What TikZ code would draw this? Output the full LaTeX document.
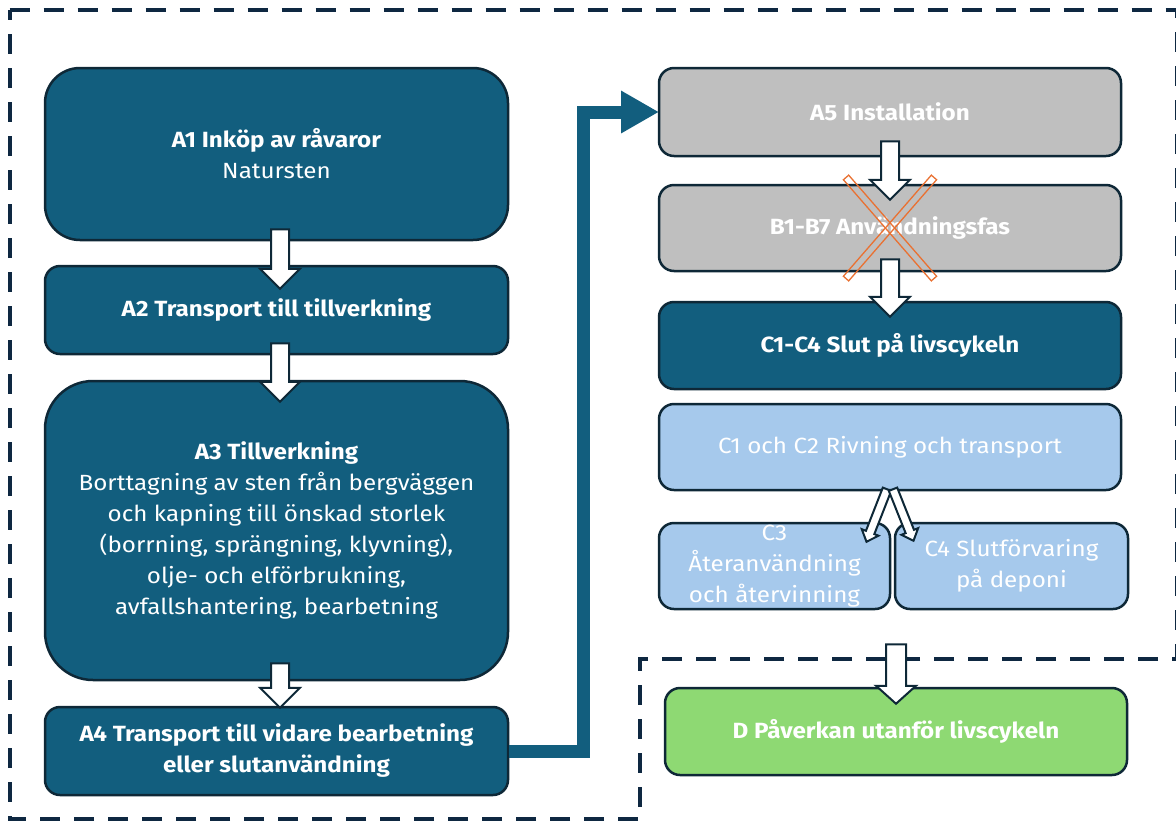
\documentclass[tikz,border=0pt]{standalone}
\usepackage{fontspec}
\setmainfont[FakeStretch=1.1]{Fira Sans}
\usetikzlibrary{calc,arrows.meta}
\definecolor{stageteal}{RGB}{18,94,126}
\definecolor{stageline}{RGB}{14,40,55}
\definecolor{stagegray}{RGB}{191,191,191}
\definecolor{stagelight}{RGB}{166,201,236}
\definecolor{stagegreen}{RGB}{142,217,115}
\definecolor{crossorange}{RGB}{233,113,50}
\definecolor{limitline}{RGB}{14,40,65}
\tikzstyle{stage}=[draw=stageline, line width=2.5pt, text=white, align=center, inner sep=0pt, minimum width=463pt, minimum height=88pt, rounded corners=15pt]
\tikzstyle{tealstage}=[stage, fill=stageteal]
\tikzstyle{graystage}=[stage, fill=stagegray]
\tikzstyle{lightstage}=[stage, fill=stagelight]
\tikzstyle{greenstage}=[stage, fill=stagegreen]
\tikzstyle{blockarr}=[draw=stageline, fill=white, line width=2pt, line join=miter]
\tikzstyle{flowline}=[draw=stageteal, line width=13pt, line join=miter]
\tikzstyle{limit}=[draw=limitline, line width=4pt, dash pattern=on 20pt off 14pt]
\tikzstyle{crossbar}=[draw=crossorange, line width=1.3pt, minimum width=134pt, minimum height=7pt, inner sep=0pt]

% start, tip, shaft half width, head half width, head length
\newcommand{\blockarrow}[5]{%
  \path #1 coordinate (ba-s) #2 coordinate (ba-t);
  \coordinate (ba-h) at ($(ba-t)!#5!(ba-s)$);
  \draw[blockarr] ($(ba-s)!#3!90:(ba-t)$) -- ($(ba-h)!#3!-90:(ba-s)$) -- ($(ba-h)!#4!-90:(ba-s)$)
    -- (ba-t) -- ($(ba-h)!#4!90:(ba-s)$) -- ($(ba-h)!#3!90:(ba-s)$) -- ($(ba-s)!#3!-90:(ba-t)$) -- cycle;
}

\begin{document}
\begin{tikzpicture}[x=1pt, y=-1pt, font=\fontsize{22}{31}\selectfont]
	\useasboundingbox (0,0) rectangle (1176,820);

	% system boundaries
	\draw[limit] (9.5,9.5) -- (1177,9.5) -- (1177,659) -- (640,659) -- (640,819) -- (9.5,819) -- cycle;

	\coordinate (bend) at (583,112);

	\node[tealstage, minimum height=172pt, rounded corners=35pt] (a1) at (276.5,154) {\textbf{A1 Inköp av råvaror}\\Natursten};
	\node[tealstage] (a2) at (276.5,310) {\textbf{A2 Transport till tillverkning}};
	\node[tealstage, minimum height=299pt, rounded corners=48pt] (a3) at (276.5,530.5) {\textbf{A3 Tillverkning}\\Borttagning av sten från bergväggen\\och kapning till önskad storlek\\(borrning, sprängning, klyvning),\\olje- och elförbrukning,\\avfallshantering, bearbetning};
	\node[tealstage] (a4) at (276.5,751) {\textbf{A4 Transport till vidare bearbetning}\\\textbf{eller slutanvändning}};

	\draw[flowline, -{Triangle[length=38pt,width=40pt]}] (a4.east) -| (bend) -- (bend -| 659,0);

	\node[graystage, minimum width=462pt] (a5) at (890,112) {\textbf{A5 Installation}};
	\node[graystage, minimum width=462pt, minimum height=86pt] (b) at (890,228) {\textbf{B1-B7 Användningsfas}};
	\node[tealstage, minimum width=462pt, minimum height=87pt] (c) at (890,345.5) {\textbf{C1-C4 Slut på livscykeln}};
	\node[lightstage, minimum width=462pt, minimum height=86pt] (c12) at (890,447) {C1 och C2 Rivning och transport};
	\node[lightstage, minimum width=231pt, minimum height=86pt] (c3) at (774.5,566) {C3\\Återanvändning\\och återvinning};
	\node[lightstage, minimum width=233pt, minimum height=86pt] (c4) at (1011.5,566) {C4 Slutförvaring\\på deponi};
	\node[greenstage, minimum width=462pt, minimum height=87pt] (d) at (896,731.5) {\textbf{D Påverkan utanför livscykeln}};

	% arrows between stages
	\blockarrow{($(a1.south)+(3.5,-12)$)}{($(a2.north)+(3.5,24)$)}{9pt}{20pt}{20pt}
	\blockarrow{($(a2.south)+(3.5,-12)$)}{($(a3.north)+(3.5,22)$)}{9pt}{20pt}{20pt}
	\blockarrow{($(a3.south)+(3.5,-18)$)}{($(a4.north)+(3.5,2)$)}{9pt}{20pt}{20pt}
	\blockarrow{($(a5.south)+(0,-16)$)}{($(b.north)+(0,16)$)}{9pt}{20pt}{20pt}
	\blockarrow{($(b.south)+(0,-13)$)}{($(c.north)+(0,16)$)}{9pt}{20pt}{20pt}
	\blockarrow{($(c12.south)+(-3,-2)$)}{($(c3.north)+(92,20)$)}{4.5pt}{9pt}{10pt}
	\blockarrow{($(c12.south)+(3,-2)$)}{($(c4.north)+(-98,19)$)}{4.5pt}{9pt}{10pt}
	\blockarrow{($(c4.south)+(-115.5,34)$)}{($(d.north)+(0,17)$)}{10pt}{20pt}{18pt}

	% phase B is left out
	\node[crossbar, rotate=-49] (xbar1) at (b.center) {};
	\node[crossbar, rotate=49] (xbar2) at (b.center) {};
\end{tikzpicture}
\end{document}
